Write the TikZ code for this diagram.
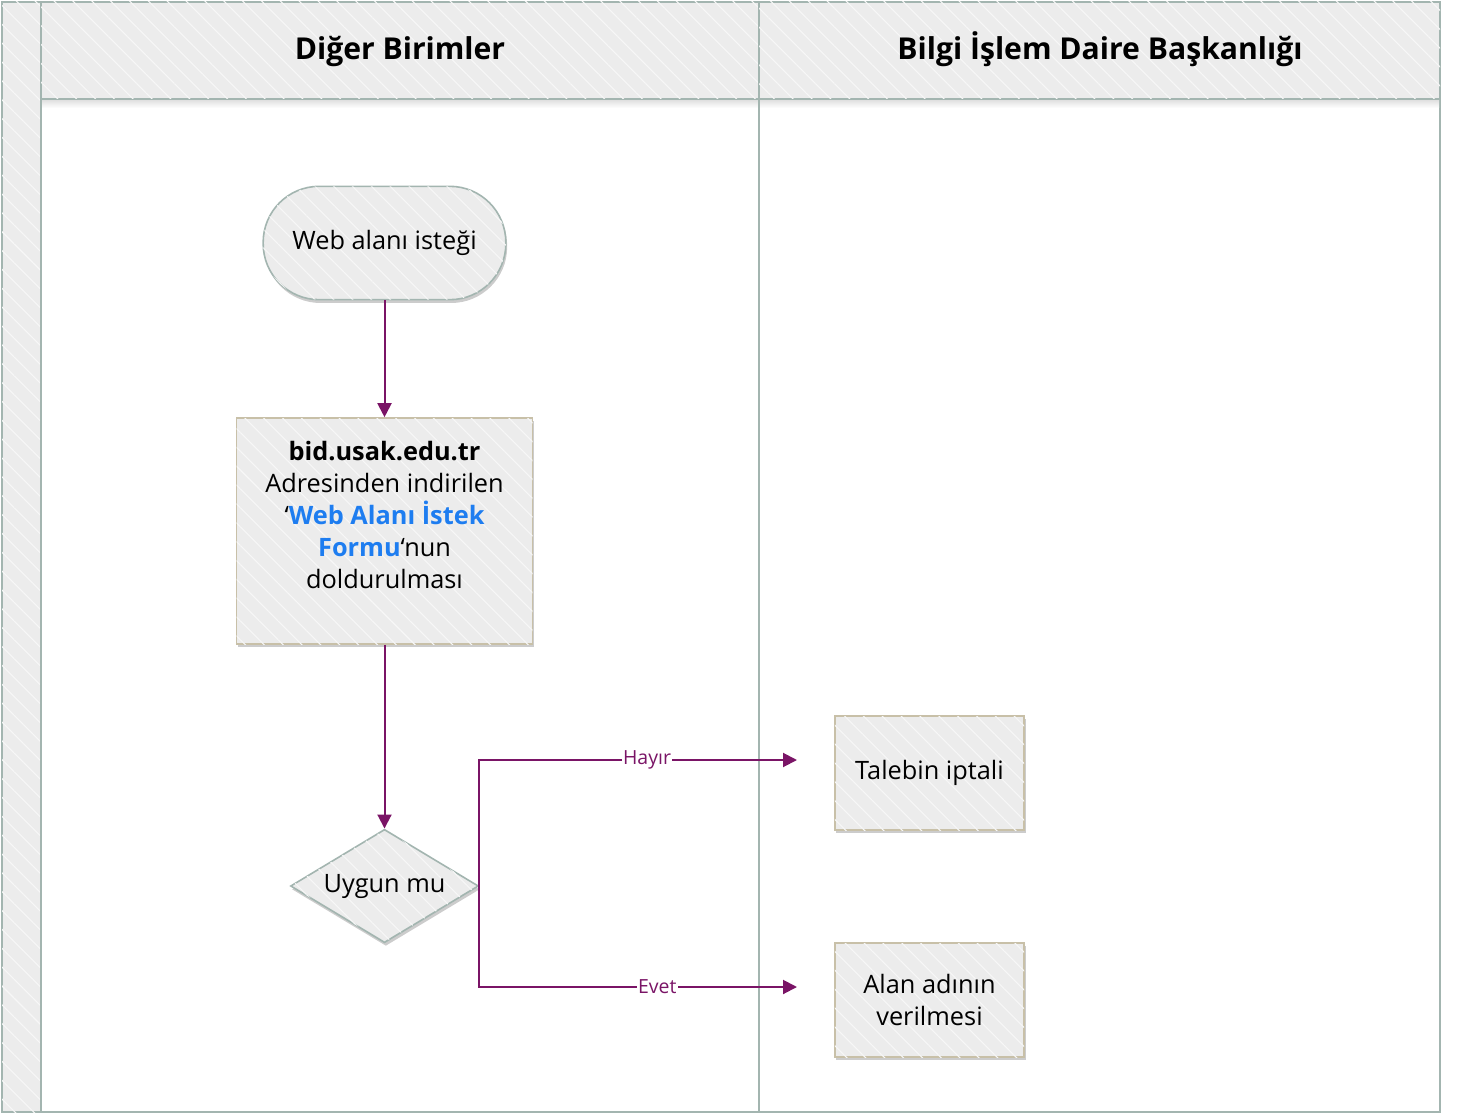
\documentclass[tikz,border=0pt]{standalone}
\usepackage{fontspec}
\setmainfont{Open Sans}
\usetikzlibrary{shapes.geometric,arrows.meta,patterns.meta,shadows}

\definecolor{laneline}{RGB}{163,181,176}
\definecolor{boxgray}{RGB}{236,236,236}
\definecolor{hatchline}{RGB}{247,247,247}
\definecolor{boxline}{RGB}{200,192,168}
\definecolor{flowpurple}{RGB}{122,20,102}
\definecolor{formblue}{RGB}{30,125,240}

\tikzset{
  hatch/.style={fill=boxgray,
    postaction={pattern={Lines[angle=-45,distance=10pt,line width=.8pt]},pattern color=hatchline}},
  lane/.style={draw=laneline,line width=1.5pt,hatch},
  boxshadow/.style={drop shadow={shadow xshift=1pt,shadow yshift=-2.5pt,opacity=.2,fill=black}},
  header/.style={anchor=base,font=\fontsize{22.6}{26}\selectfont\bfseries},
  startbox/.style={draw=laneline,line width=1.2pt,hatch,boxshadow,rounded corners=42pt,
    minimum width=182pt,minimum height=85pt,align=center},
  procbox/.style={draw=boxline,line width=1.2pt,hatch,boxshadow,
    minimum width=142pt,minimum height=85.5pt,align=center},
  decision/.style={diamond,aspect=1.66,draw=laneline,line width=1.2pt,hatch,boxshadow,inner sep=0pt,
    minimum width=141pt,minimum height=85pt},
  flow/.style={draw=flowpurple,line width=1.5pt,-{Triangle[length=10.5pt,width=10.5pt]}},
  flowlabel/.style={fill=white,inner sep=1pt,text=flowpurple,font=\fontsize{14.6}{16}\selectfont}
}

\begin{document}
\begin{tikzpicture}[x=.75pt,y=-.75pt,font=\fontsize{19}{24}\selectfont]
  \useasboundingbox (0,0) rectangle (1457,1116);

  % havuz ve kulvarlar
  \draw[lane] (2,2) rectangle (41,1112);
  \draw[draw=laneline,line width=1.5pt] (41,99) rectangle (1440,1112);
  \fill[top color=black!12,bottom color=white] (42,100) rectangle (1439,108);
  \draw[lane] (41,2) rectangle (759,99);
  \draw[lane] (759,2) rectangle (1440,99);
  \draw[draw=laneline,line width=1.5pt] (759,99) -- (759,1112);

  \node[header] (Diger) at (400,60) {Diğer Birimler};
  \node[header] (Bilgi) at (1100,60) {Bilgi İşlem Daire Başkanlığı};

  % akis
  \node[startbox] (Istek) at (384.5,243) {Web alanı isteği};
  \node[procbox,minimum width=222pt,minimum height=169.5pt] (Form) at (384.5,531)
    {\textbf{bid.usak.edu.tr}\\
     Adresinden indirilen\\
     ‘\textcolor{formblue}{\bfseries Web Alanı İstek}\\
     \textcolor{formblue}{\bfseries Formu}‘nun\\
     doldurulması\\ ~};
  \node[decision] (Uygun) at (384.5,886) {Uygun mu};
  \node[procbox] (Iptal) at (929.5,773) {Talebin iptali};
  \node[procbox] (Alan) at (929.5,1000) {Alan adının\\ verilmesi};

  \coordinate (Hayir ucu) at (797,760);
  \coordinate (Evet ucu) at (797,987);

  \draw[flow] (Istek) -- (Form);
  \draw[flow] (Form) -- (Uygun);
  \draw[flow] (Uygun.east) |- node[pos=.764,flowlabel] {Hayır} (Hayir ucu);
  \draw[flow] (Uygun.east) |- node[pos=.78,flowlabel] {Evet} (Evet ucu);
\end{tikzpicture}
\end{document}
